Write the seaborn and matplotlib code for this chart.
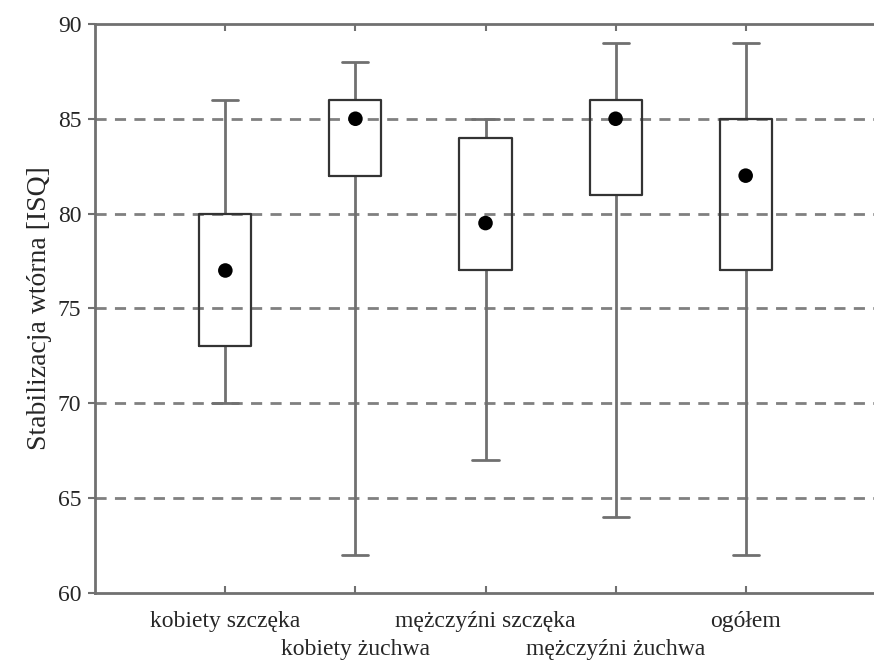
import pandas as pd
import matplotlib
matplotlib.use("Agg")
import matplotlib.pyplot as plt
import matplotlib.transforms as mtransforms
import seaborn as sns

# Group names and five-number summaries
groups = ["kobiety szczęka", "kobiety żuchwa", "mężczyźni szczęka",
          "mężczyźni żuchwa", "ogółem"]
mins = [70, 62, 67, 64, 62]
q1s = [73, 82, 77, 81, 77]
medians = [77, 85, 79.5, 85, 82]
q3s = [80, 86, 84, 86, 85]
maxs = [86, 88, 85, 89, 89]

# Five values per group give exactly these quartiles (linear interpolation)
rows = []
for g, a, b, c, d, e in zip(groups, mins, q1s, medians, q3s, maxs):
    for v in (a, b, c, d, e):
        rows.append({"grupa": g, "ISQ": v})
df = pd.DataFrame(rows)
med_df = pd.DataFrame({"grupa": groups, "ISQ": medians})

sns.set_theme(style="white")
plt.rcParams["font.family"] = ["Liberation Serif", "DejaVu Serif"]

fig = plt.figure(figsize=(8.74, 6.64), dpi=100)
ax = fig.add_axes([0.109, 0.107, 0.893, 0.857])

sns.boxplot(data=df, x="grupa", y="ISQ", order=groups, whis=(0, 100),
            width=0.4, fill=False, color="#444444", linewidth=1.6,
            showfliers=False, ax=ax,
            boxprops={"color": "#333333", "zorder": 3},
            whiskerprops={"color": "#707070", "linewidth": 2},
            capprops={"color": "#707070", "linewidth": 2},
            medianprops={"visible": False})
sns.scatterplot(data=med_df, x="grupa", y="ISQ", color="black", s=110,
                edgecolor="none", zorder=5, ax=ax, legend=False)

for v in [65, 70, 75, 80, 85]:
    ax.axhline(v, color="#808080", linestyle=(0, (4, 3)), linewidth=2,
               zorder=0)

ax.set_xlim(-1, 5)
ax.set_ylim(60, 90)
ax.set_yticks([60, 65, 70, 75, 80, 85, 90])
ax.set_xticks(range(len(groups)))
ax.set_xticklabels(groups, fontsize=17)
ax.tick_params(axis="x", direction="in", top=True, bottom=True,
               length=5, width=1.5, color="#707070", pad=13)
ax.tick_params(axis="y", direction="out", left=True, length=5,
               width=1.5, color="#707070", labelsize=17, pad=5)

# stagger every second category label one row lower
shift = mtransforms.ScaledTranslation(0, -0.28, fig.dpi_scale_trans)
for i, lab in enumerate(ax.get_xticklabels()):
    if i % 2 == 1:
        lab.set_transform(lab.get_transform() + shift)

ax.set_xlabel("")
ax.set_ylabel("Stabilizacja wtórna [ISQ]", fontsize=20, labelpad=4)

for side in ["left", "top", "bottom", "right"]:
    ax.spines[side].set_color("#707070")
    ax.spines[side].set_linewidth(2)

fig.savefig("out.png", dpi=100)
